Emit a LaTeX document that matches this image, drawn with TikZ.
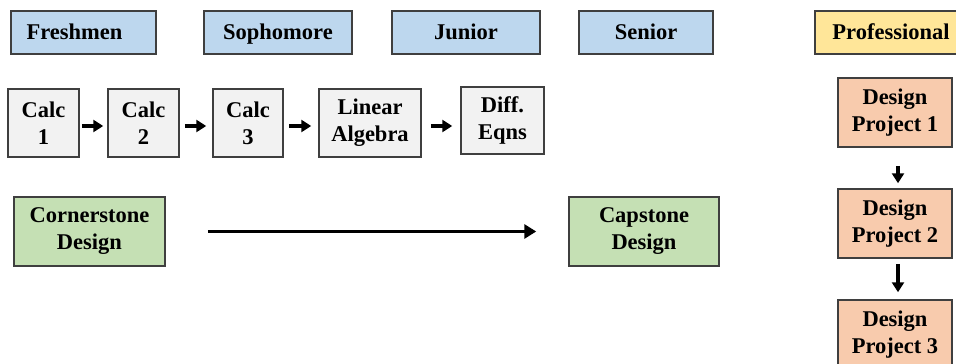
\documentclass[tikz,border=0pt]{standalone}
\usepackage{fontspec}
\setmainfont{Liberation Serif}
\usetikzlibrary{arrows.meta}
\definecolor{hdrblue}{HTML}{BDD7EE}
\definecolor{boxgray}{HTML}{F2F2F2}
\definecolor{boxgreen}{HTML}{C5E0B4}
\definecolor{boxorange}{HTML}{F8CBAD}
\definecolor{boxyellow}{HTML}{FFE699}
\definecolor{edgegray}{HTML}{3F3F3F}
\begin{document}
\begin{tikzpicture}[x=1pt,y=-1pt,
  base/.style={draw=edgegray, line width=1.5pt, inner sep=0pt, align=center,
    font=\fontsize{22.5}{27}\selectfont\bfseries},
  hdr/.style={base, fill=hdrblue, minimum height=43pt, text height=17pt, text depth=3pt},
  prof/.style={base, fill=boxyellow, minimum height=43pt, text height=17pt, text depth=3pt},
  course/.style={base, fill=boxgray, minimum height=68pt},
  design/.style={base, fill=boxgreen, minimum height=69pt},
  proj/.style={base, fill=boxorange, minimum width=114pt, minimum height=69pt},
  arr/.style={-{Triangle[length=10pt,width=12pt]}, line width=4pt, black},
  longarr/.style={-{Triangle[length=12pt,width=14pt]}, line width=3pt, black}
]
\useasboundingbox (0,0) rectangle (956,364);
\clip (0,0) rectangle (956,364);
% headers
\node[hdr, minimum width=145pt] (fr) at (83.5,32.5) {Freshmen\hspace{18pt}};
\node[hdr, minimum width=148pt] (so) at (278,32.5) {Sophomore};
\node[hdr, minimum width=148pt] (ju) at (466,32.5) {Junior};
\node[hdr, minimum width=134pt] (se) at (646,32.5) {Senior};
\node[prof, minimum width=152pt] (pr) at (891,32.5) {Professional};
% math courses
\node[course, minimum width=71pt] (c1) at (43.5,123) {Calc\\1};
\node[course, minimum width=71pt] (c2) at (143.5,123) {Calc\\2};
\node[course, minimum width=70pt] (c3) at (248,123) {Calc\\3};
\node[course, minimum width=102pt] (la) at (370,123) {Linear\\Algebra};
\node[course, minimum width=83pt, minimum height=67pt] (de) at (502.5,120.5) {Diff.\\Eqns};
\draw[arr, shorten <=2pt, shorten >=4pt] (c1.east |- 0,126) -- (c2.west |- 0,126);
\draw[arr, shorten <=5pt, shorten >=6pt] (c2.east |- 0,126) -- (c3.west |- 0,126);
\draw[arr, shorten <=5pt, shorten >=7pt] (c3.east |- 0,126) -- (la.west |- 0,126);
\draw[arr, shorten <=9pt, shorten >=8pt] (la.east |- 0,126) -- (de.west |- 0,126);
% design courses
\node[design, minimum width=151pt] (cs) at (89.5,231.5) {Cornerstone\\Design};
\node[design, minimum width=150pt] (cp) at (644,231.5) {Capstone\\Design};
\draw[longarr, shorten <=42pt, shorten >=32pt] (cs) -- (cp);
% professional projects
\node[proj] (p1) at (895,112.5) {Design\\Project 1};
\node[proj] (p2) at (895,223.5) {Design\\Project 2};
\node[proj] (p3) at (895,334.5) {Design\\Project 3};
\draw[arr, shorten <=18pt, shorten >=5pt] ([xshift=3pt]p1.south) -- ([xshift=3pt]p2.north);
\draw[arr, shorten <=5pt, shorten >=7pt] ([xshift=3pt]p2.south) -- ([xshift=3pt]p3.north);
\end{tikzpicture}
\end{document}
